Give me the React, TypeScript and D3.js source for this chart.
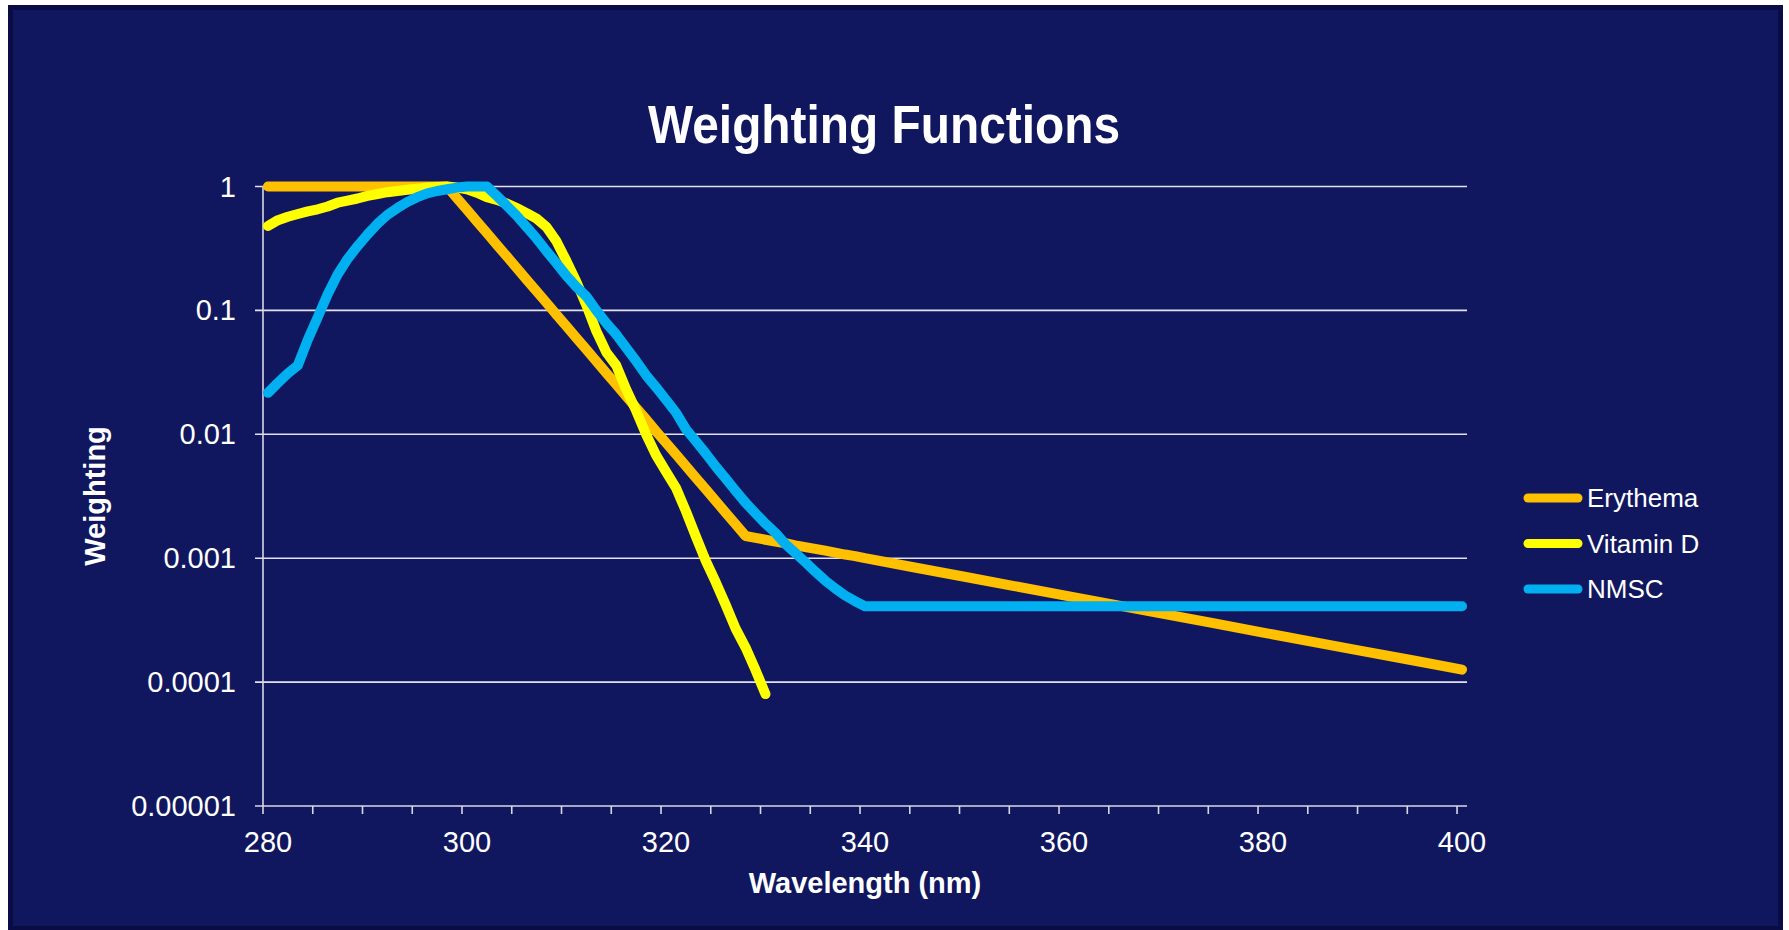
import React from 'react';
import * as d3 from 'd3';

// wavelength categories (nm)
const wavelengths = [
  280, 281, 282, 283, 284, 285, 286, 287, 288, 289,
  290, 291, 292, 293, 294, 295, 296, 297, 298, 299,
  300, 301, 302, 303, 304, 305, 306, 307, 308, 309,
  310, 311, 312, 313, 314, 315, 316, 317, 318, 319,
  320, 321, 322, 323, 324, 325, 326, 327, 328, 329,
  330, 331, 332, 333, 334, 335, 336, 337, 338, 339,
  340, 345, 350, 355, 360, 365, 370, 375, 380, 385,
  390, 395, 400,
];

const erythema = [
  1, 1, 1, 1, 1, 1, 1, 1, 1, 1,
  1, 1, 1, 1, 1, 1, 1, 1, 1, 0.805,
  0.649, 0.522, 0.421, 0.339, 0.273, 0.22, 0.177, 0.143, 0.115, 0.0924,
  0.0745, 0.06, 0.0483, 0.0389, 0.0313, 0.0252, 0.0203, 0.0164, 0.0132, 0.0106,
  0.00855, 0.00689, 0.00555, 0.00447, 0.0036, 0.0029, 0.00233, 0.00188, 0.00151, 0.00146,
  0.00141, 0.00136, 0.00132, 0.00127, 0.00123, 0.00119, 0.00115, 0.00111, 0.00107, 0.00104,
  0.001, 0.000841, 0.000708, 0.000596, 0.000501, 0.000422, 0.000355, 0.000299, 0.000251, 0.000211,
  0.000178, 0.00015, 0.000126,
];

const vitaminD = [
  0.48, 0.535, 0.57, 0.6, 0.63, 0.655, 0.69, 0.74, 0.77, 0.8,
  0.84, 0.87, 0.9, 0.92, 0.94, 0.96, 0.98, 0.99, 1, 0.98,
  0.95, 0.89, 0.82, 0.78, 0.73, 0.67, 0.61, 0.55, 0.47, 0.36,
  0.25, 0.17, 0.11, 0.068, 0.046, 0.036, 0.023, 0.0155, 0.01, 0.0068,
  0.005, 0.0037, 0.0024, 0.0015, 0.00095, 0.00064, 0.00042, 0.00027, 0.00019, 0.000125,
  0.00008, null, null, null, null, null, null, null, null, null,
  null, null, null, null, null, null, null, null, null, null,
  null, null, null,
];

const nmsc = [
  0.0216, 0.026, 0.031, 0.036, 0.058, 0.088, 0.135, 0.195, 0.26, 0.33,
  0.41, 0.5, 0.59, 0.67, 0.75, 0.82, 0.88, 0.92, 0.95, 0.98,
  1, 1, 1, 0.84, 0.7, 0.58, 0.47, 0.38, 0.3, 0.24,
  0.19, 0.155, 0.13, 0.1, 0.079, 0.064, 0.05, 0.039, 0.03, 0.024,
  0.019, 0.015, 0.011, 0.0088, 0.007, 0.0055, 0.0044, 0.0035, 0.0028, 0.0023,
  0.0019, 0.0016, 0.0013, 0.0011, 0.00093, 0.00078, 0.00066, 0.00057, 0.0005, 0.00045,
  0.00041, 0.00041, 0.00041, 0.00041, 0.00041, 0.00041, 0.00041, 0.00041, 0.00041, 0.00041,
  0.00041, 0.00041, 0.00041,
];

const seriesNames = ['Erythema', 'Vitamin D', 'NMSC'];
const seriesColors = ['#ffc000', '#ffff00', '#00b0f0'];
const seriesValues = [erythema, vitaminD, nmsc];

const yTicks = [1, 0.1, 0.01, 0.001, 0.0001, 0.00001];
const yTickLabels = ['1', '0.1', '0.01', '0.001', '0.0001', '0.00001'];
const xLabels = [280, 300, 320, 340, 360, 380, 400];

const W = 1789;
const H = 930;
const FONT = 'Arial, "Liberation Sans", sans-serif';

export default function App() {
  // category axis: each nm is one slot, points sit in the middle of it
  const x = d3.scaleLinear().domain([279.5, 400.5]).range([263, 1467]);
  const y = d3.scaleLog().domain([0.00001, 1]).range([806, 186.5]);

  const xTicks = d3.range(279.5, 400, 5);

  const line = d3.line<[number, number | null]>()
    .defined(d => d[1] != null)
    .x(d => x(d[0]))
    .y(d => y(d[1] as number));

  return (
    <svg width={W} height={H} style={{ position: 'absolute', left: 0, top: 0 }} fontFamily={FONT}>
      <rect x={0} y={0} width={W} height={H} fill="#ffffff" />
      <rect x={8} y={5} width={1775} height={925} fill="#0a0d45" />
      <rect x={13} y={10} width={1765} height={916} fill="#10175e" />

      <text x={884} y={143} fill="#fff" fontSize={53} fontWeight="bold" textAnchor="middle"
        textLength={472} lengthAdjust="spacingAndGlyphs">Weighting Functions</text>

      {/* gridlines */}
      {yTicks.map((t, i) => (
        <line key={'g' + i} x1={255} x2={1467} y1={y(t)} y2={y(t)}
          stroke={i === yTicks.length - 1 ? '#d8d8e4' : '#e2e2ee'} strokeWidth={1.6} />
      ))}
      <line x1={263} x2={263} y1={186.5} y2={806} stroke="#d8d8e4" strokeWidth={1.6} />

      {yTicks.map((t, i) => (
        <text key={'yl' + i} x={236} y={y(t)} fill="#fff" fontSize={29} textAnchor="end"
          dominantBaseline="central">{yTickLabels[i]}</text>
      ))}

      {xTicks.map((t, i) => (
        <line key={'xt' + i} x1={x(t)} x2={x(t)} y1={806} y2={814} stroke="#d8d8e4" strokeWidth={1.6} />
      ))}
      {xLabels.map(v => (
        <text key={'xl' + v} x={x(v)} y={852} fill="#fff" fontSize={29} textAnchor="middle">{v}</text>
      ))}

      <text x={865} y={893} fill="#fff" fontSize={29} fontWeight="bold" textAnchor="middle">Wavelength (nm)</text>
      <text transform="translate(105,496) rotate(-90)" fill="#fff" fontSize={29} fontWeight="bold"
        textAnchor="middle">Weighting</text>

      {/* series */}
      {seriesValues.map((vals, i) => (
        <path key={'s' + i}
          d={line(wavelengths.map((w, j) => [w, vals[j]] as [number, number | null])) || ''}
          fill="none" stroke={seriesColors[i]} strokeWidth={10}
          strokeLinecap="round" strokeLinejoin="round" />
      ))}

      {/* legend */}
      {seriesNames.map((name, i) => {
        const ly = 498 + i * 45.5;
        return (
          <g key={'lg' + i}>
            <line x1={1528} x2={1578} y1={ly} y2={ly} stroke={seriesColors[i]} strokeWidth={9}
              strokeLinecap="round" />
            <text x={1587} y={ly} fill="#fff" fontSize={26} dominantBaseline="central">{name}</text>
          </g>
        );
      })}
    </svg>
  );
}
